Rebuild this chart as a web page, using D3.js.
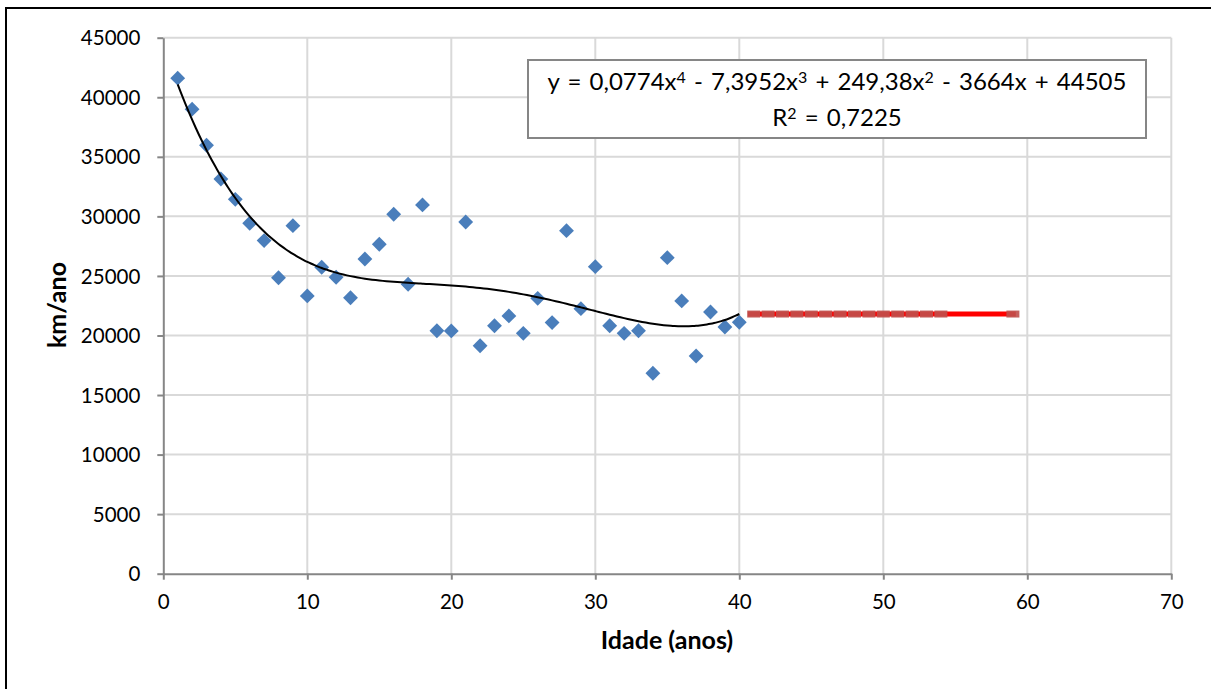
<!DOCTYPE html>
<html><head><meta charset="utf-8">
<script src="https://cdn.jsdelivr.net/npm/d3@7"></script>
<style>
html,body{margin:0;padding:0;background:#fff;}
svg{display:block;font-family:Lato,"Open Sans",sans-serif;}
</style></head>
<body><svg id="c" width="1211" height="689"></svg>
<script>
const ages = [1,2,3,4,5,6,7,8,9,10,11,12,13,14,15,16,17,18,19,20,21,22,23,24,25,26,27,28,29,30,31,32,33,34,35,36,37,38,39,40];
const kmPerYear = [41600,39000,35970,33140,31430,29420,27970,24850,29220,23320,25730,24890,23170,26420,27660,30180,24300,30960,20400,20380,29530,19140,20820,21640,20180,23120,21080,28800,22250,25780,20820,20180,20400,16830,26530,22900,18280,21970,20710,21110];
const projAges = [41,42,43,44,45,46,47,48,49,50,51,52,53,54,55,56,57,58,59];
const projKm = [21800,21800,21800,21800,21800,21800,21800,21800,21800,21800,21800,21800,21800,21800,21800,21800,21800,21800,21800];
const trendCoef = [0.0774,-7.3952,249.38,-3664,44505]; // x^4..x^0
const xTicks = [0,10,20,30,40,50,60,70];
const yTicks = [0,5000,10000,15000,20000,25000,30000,35000,40000,45000];
const eqLine1 = ["y = 0,0774x","4"," - 7,3952x","3"," + 249,38x","2"," - 3664x + 44505"];
const eqLine2 = ["R","2"," = 0,7225"];

const svg = d3.select("#c");
svg.append("rect").attr("x",6).attr("y",8).attr("width",1215).attr("height",700)
  .attr("fill","#fff").attr("stroke","#000").attr("stroke-width",2);

const x = d3.scaleLinear().domain([0,70]).range([163.3,1171.3]);
const y = d3.scaleLinear().domain([0,45000]).range([573.7,37.7]);

// gridlines
svg.append("g").selectAll("line").data(yTicks.filter(d=>d>0)).join("line")
  .attr("x1",x(0)).attr("x2",x(70)).attr("y1",d=>y(d)).attr("y2",d=>y(d))
  .attr("stroke","#d9d9d9").attr("stroke-width",2);
svg.append("g").selectAll("line").data(xTicks.filter(d=>d>0)).join("line")
  .attr("y1",y(0)).attr("y2",y(45000)).attr("x1",d=>x(d)).attr("x2",d=>x(d))
  .attr("stroke","#d9d9d9").attr("stroke-width",2);

// axes
const ya = svg.append("g").attr("transform",`translate(${x(0)},0)`)
  .call(d3.axisLeft(y).tickValues(yTicks).tickSize(6).tickSizeOuter(0).tickPadding(17).tickFormat(d=>d));
const xa = svg.append("g").attr("transform",`translate(0,${y(0)})`)
  .call(d3.axisBottom(x).tickValues(xTicks).tickSize(6).tickSizeOuter(0).tickPadding(12).tickFormat(d=>d));
[ya,xa].forEach(a=>{
  a.attr("font-size",20.5).attr("font-family","Lato");
  a.select(".domain").attr("stroke","#868686").attr("stroke-width",2);
  a.selectAll(".tick line").attr("stroke","#868686").attr("stroke-width",2);
  a.selectAll("text").attr("fill","#000");
});
xa.selectAll("text").attr("dy","0.85em");
ya.selectAll("text").attr("dy","0.35em");

// titles
svg.append("text").attr("x",667).attr("y",649).attr("text-anchor","middle")
  .attr("font-size",25).attr("font-weight","bold").text("Idade (anos)");
svg.append("text").attr("transform","translate(66,305) rotate(-90)").attr("text-anchor","middle")
  .attr("font-size",25).attr("font-weight","bold").text("km/ano");

// projection line
const projLine = d3.line().x(d=>x(d[0])).y(d=>y(d[1]));
const proj = projAges.map((a,i)=>[a,projKm[i]]);
svg.append("path").datum([[projAges[0]-0.4,projKm[0]],...proj.slice(1,-1),[projAges[projAges.length-1]+0.2,projKm[projKm.length-1]]])
  .attr("d",projLine).attr("fill","none").attr("stroke","#ff0000").attr("stroke-width",5);
svg.append("g").selectAll("rect").data(proj.filter(d=>d[0]<=54||d[0]===59)).join("rect")
  .attr("x",d=>x(d[0])-6.5).attr("y",d=>y(d[1])-3.5).attr("width",13).attr("height",7)
  .attr("fill","#c0504d").attr("opacity",0.9);

// scatter diamonds
svg.append("g").selectAll("path").data(ages.map((a,i)=>[a,kmPerYear[i]])).join("path")
  .attr("d",d3.symbol(d3.symbolSquare, 110)())
  .attr("transform",d=>`translate(${x(d[0])},${y(d[1])}) rotate(45)`)
  .attr("fill","#4a7ebb");

// trend line from equation coefficients
const poly = t => trendCoef.reduce((s,c)=>s*t+c,0);
const tx = d3.range(1,40.001,0.25);
svg.append("path").datum(tx).attr("fill","none").attr("stroke","#000").attr("stroke-width",2)
  .attr("d",d3.line().x(d=>x(d)).y(d=>y(poly(d))).curve(d3.curveMonotoneX));

// equation box
svg.append("rect").attr("x",528).attr("y",60).attr("width",618).attr("height",78)
  .attr("fill","#fff").attr("stroke","#868686").attr("stroke-width",2);
function richText(parts,cx,cy){
  const t = svg.append("text").attr("x",cx).attr("y",cy).attr("text-anchor","middle")
    .attr("font-size",24).attr("word-spacing",2);
  parts.forEach((p,i)=>{
    const s = t.append("tspan").text(p);
    if(i%2===1){ s.attr("font-size",16).attr("baseline-shift","42%"); }
  });
}
richText(eqLine1,837,90);
richText(eqLine2,837,126);
</script></body></html>
